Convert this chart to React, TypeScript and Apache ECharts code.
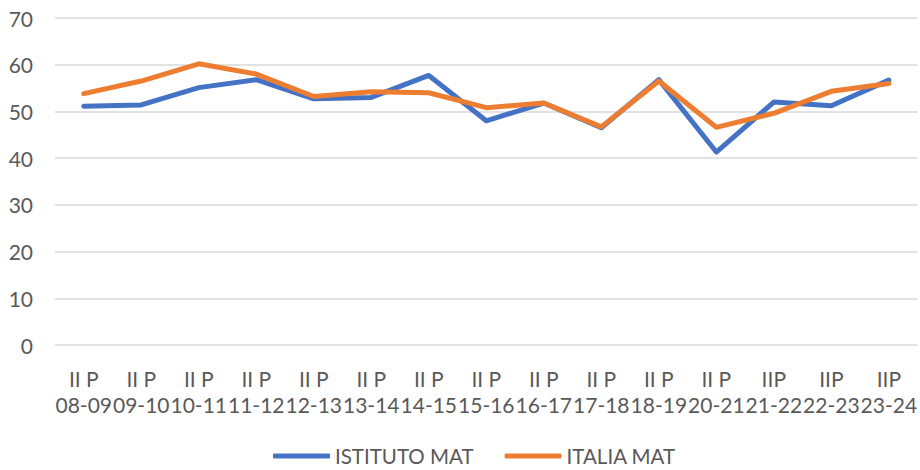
import React, { useEffect, useRef } from "react";
import * as echarts from "echarts";

const periods = ["II P", "II P", "II P", "II P", "II P", "II P", "II P", "II P", "II P", "II P", "II P", "II P", "IIP", "IIP", "IIP"];
const years = ["08-09", "09-10", "10-11", "11-12", "12-13", "13-14", "14-15", "15-16", "16-17", "17-18", "18-19", "20-21", "21-22", "22-23", "23-24"];
const istitutoMat = [51.1, 51.4, 55.1, 56.8, 52.7, 53.0, 57.7, 48.0, 51.8, 46.5, 56.8, 41.3, 52.0, 51.2, 56.7];
const italiaMat = [53.8, 56.5, 60.2, 58.0, 53.2, 54.2, 54.0, 50.8, 51.8, 46.7, 56.5, 46.6, 49.6, 54.3, 56.0];
const seriesNames = ["ISTITUTO MAT", "ITALIA MAT"];

const FONT = "Lato, 'Open Sans', sans-serif";
const TEXT = "#595959";

export default function App() {
  const ref = useRef<HTMLDivElement>(null);
  useEffect(() => {
    if (!ref.current) return;
    const chart = echarts.init(ref.current, undefined, { renderer: "svg" });
    const categories = periods.map((p, i) => p + "\n" + years[i]);
    chart.setOption({
      animation: false,
      backgroundColor: "#ffffff",
      grid: { left: 55, right: 0, top: 18, bottom: 125, containLabel: false },
      legend: {
        top: 444,
        left: 273,
        padding: 0,
        itemWidth: 57,
        itemHeight: 5,
        itemGap: 31,
        icon: "roundRect",
        textStyle: { color: TEXT, fontSize: 20.5, fontFamily: FONT, lineHeight: 24 },
        data: seriesNames,
      },
      xAxis: {
        type: "category",
        data: categories,
        boundaryGap: true,
        axisLine: { show: false },
        axisTick: { show: false },
        axisLabel: {
          color: TEXT,
          fontSize: 21,
          fontFamily: FONT,
          lineHeight: 26,
          margin: 20,
          interval: 0,
        },
      },
      yAxis: {
        type: "value",
        min: 0,
        max: 70,
        interval: 10,
        axisLine: { show: false },
        axisTick: { show: false },
        axisLabel: { color: TEXT, fontSize: 21, fontFamily: FONT, margin: 22 },
        splitLine: { lineStyle: { color: "#d9d9d9", width: 1.5 } },
      },
      series: [
        {
          name: seriesNames[0],
          type: "line",
          data: istitutoMat,
          symbol: "none",
          color: "#4472C4",
          lineStyle: { width: 5, color: "#4472C4", join: "round", cap: "round" },
        },
        {
          name: seriesNames[1],
          type: "line",
          data: italiaMat,
          symbol: "none",
          color: "#ED7D31",
          lineStyle: { width: 5, color: "#ED7D31", join: "round", cap: "round" },
        },
      ],
    });
    return () => chart.dispose();
  }, []);
  return (
    <div
      ref={ref}
      style={{ position: "fixed", left: 0, top: 0, width: 920, height: 470 }}
    />
  );
}
